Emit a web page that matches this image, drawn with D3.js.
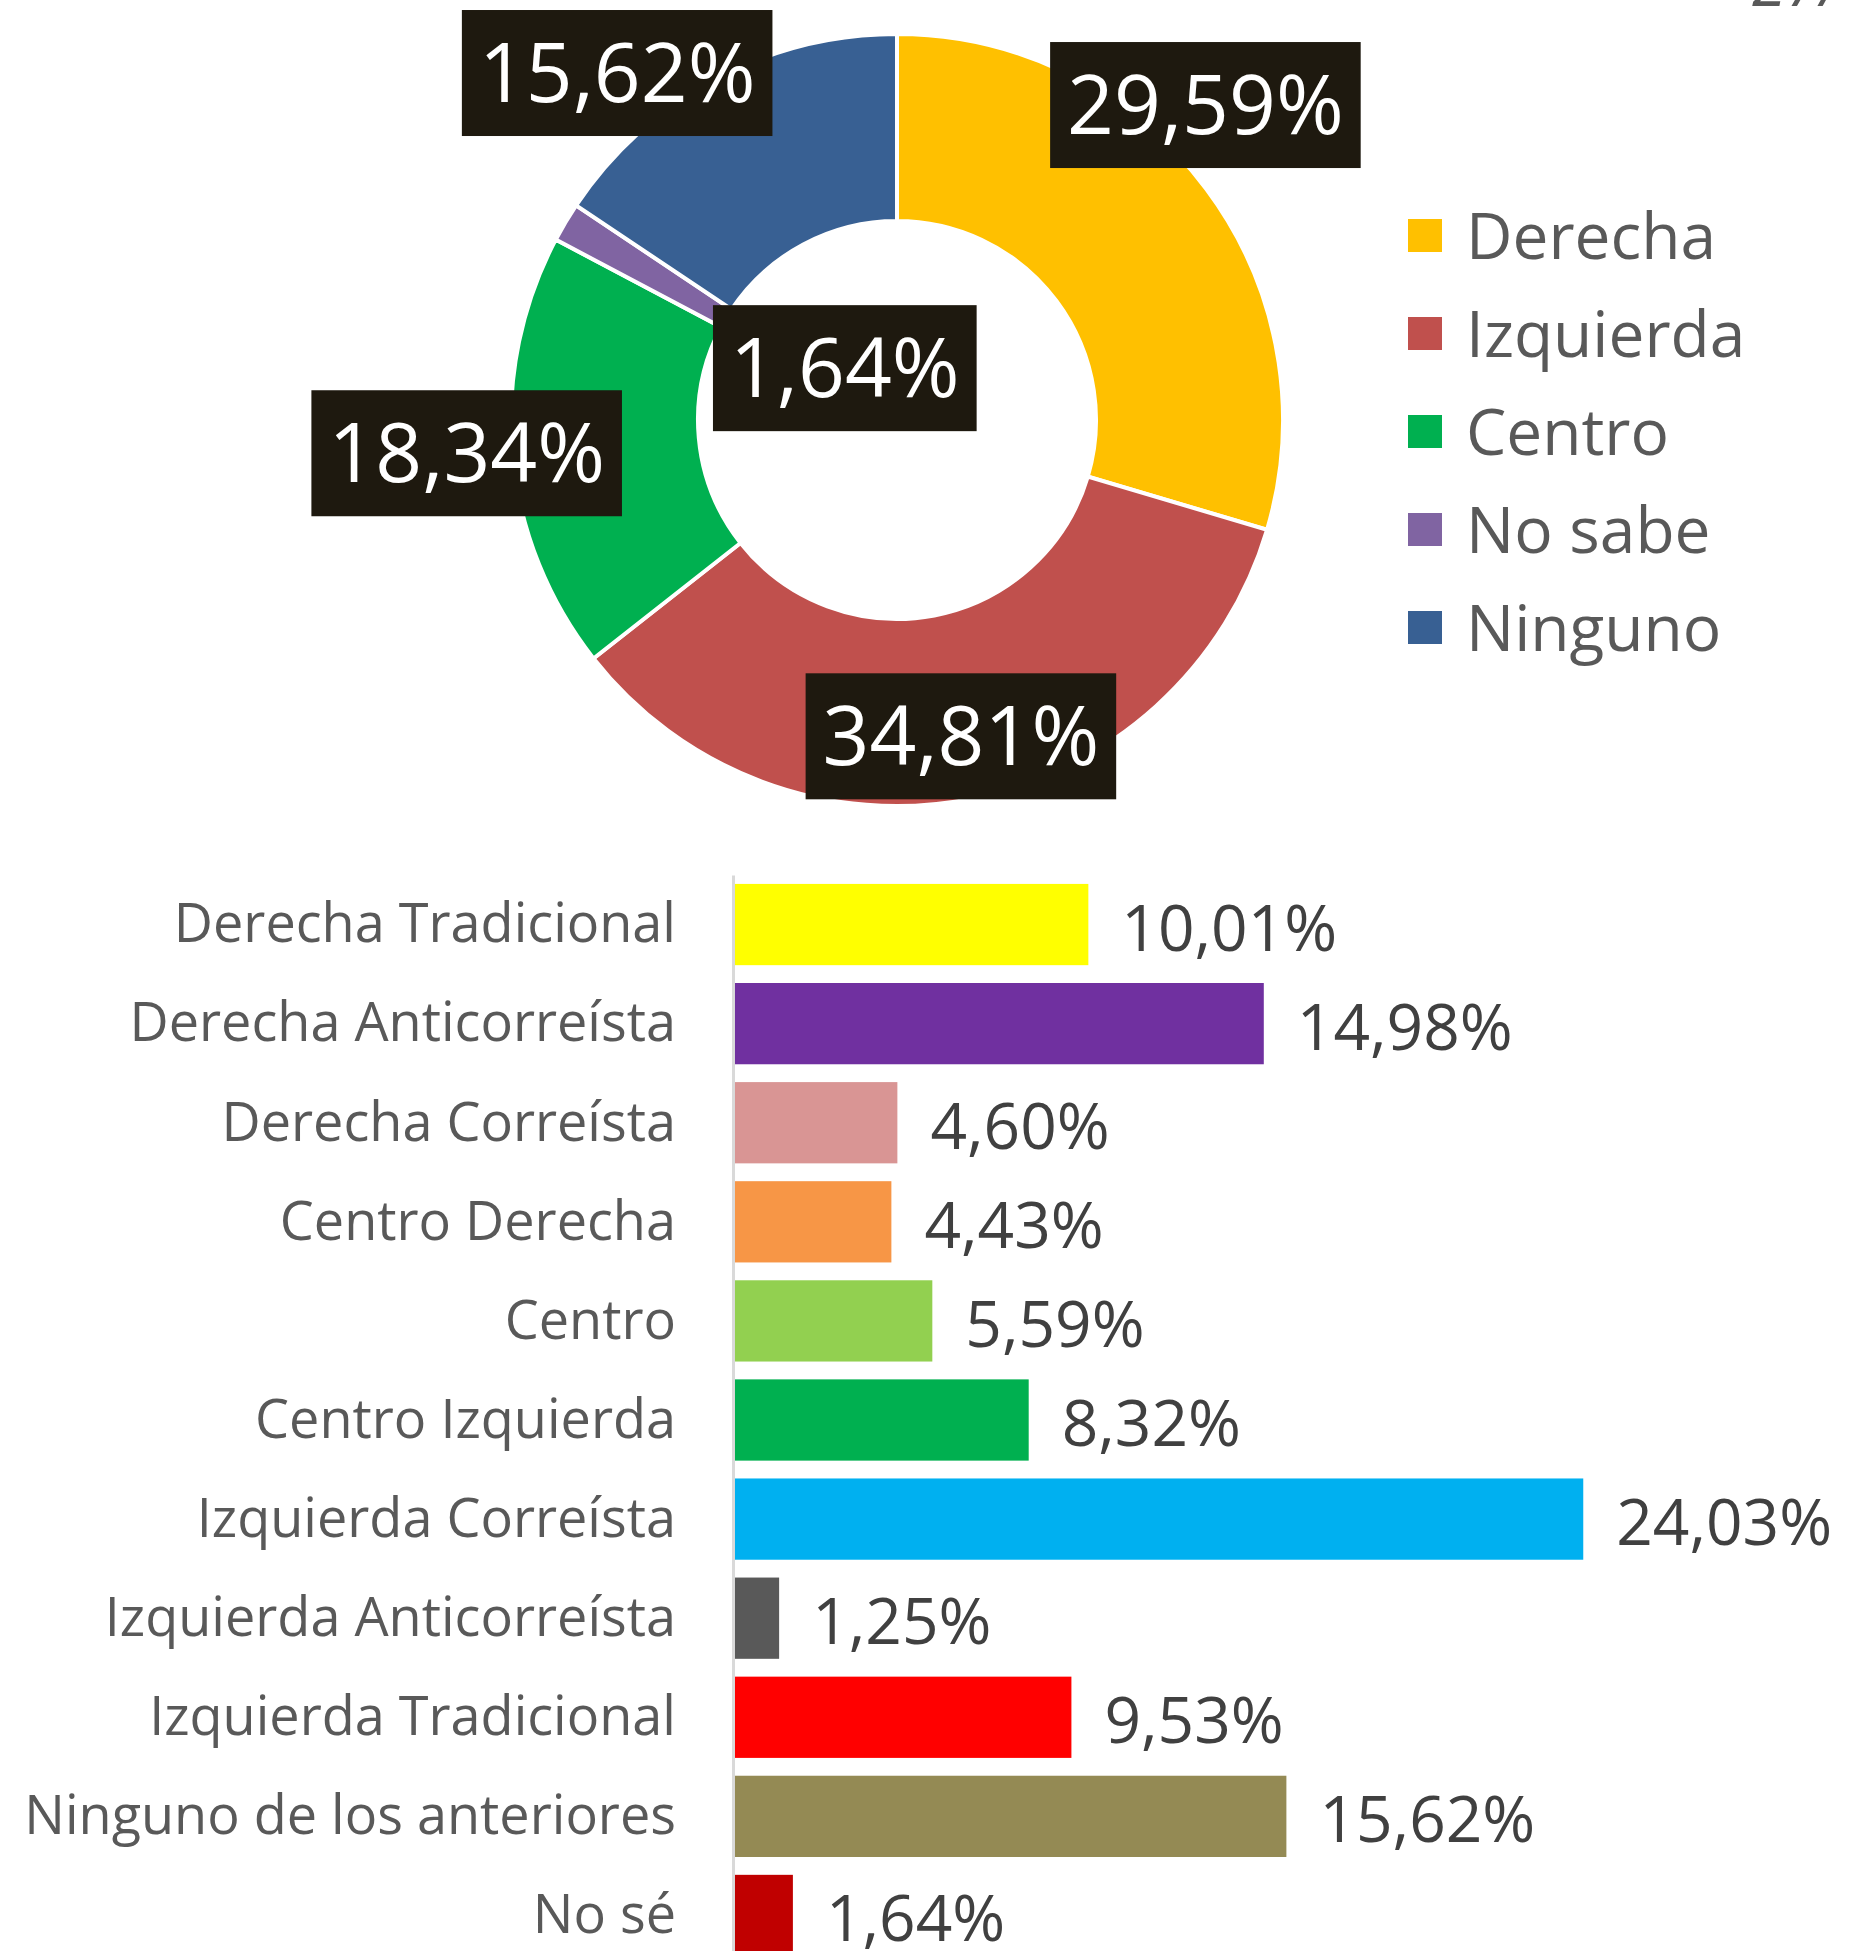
<!DOCTYPE html>
<html lang="es">
<head>
  <meta charset="utf-8">
  <title>Autoidentificación política</title>
  <script src="https://cdn.jsdelivr.net/npm/d3@7"></script>
  <style>
    body { margin: 0; background: #fff; }
    svg text { font-family: "Open Sans", "DejaVu Sans", sans-serif; }
  </style>
</head>
<body>
<div id="chart"></div>
<script>
// donut: autoidentificación
const donutCats = ["Derecha", "Izquierda", "Centro", "No sabe", "Ninguno"];
const donutVals = [29.59, 34.81, 18.34, 1.64, 15.62];
const donutColors = ["#FFC000", "#C0504D", "#00B050", "#8064A2", "#386093"];

// barras: detalle
const barCats = ["Derecha Tradicional", "Derecha Anticorreísta", "Derecha Correísta",
  "Centro Derecha", "Centro", "Centro Izquierda", "Izquierda Correísta",
  "Izquierda Anticorreísta", "Izquierda Tradicional", "Ninguno de los anteriores", "No sé"];
const barVals = [10.01, 14.98, 4.60, 4.43, 5.59, 8.32, 24.03, 1.25, 9.53, 15.62, 1.64];
const barColors = ["#FFFF00", "#7030A0", "#D99594", "#F79646", "#92D050", "#00B050",
  "#00B0F0", "#595959", "#FF0000", "#948A54", "#C00000"];

const fmt = v => v.toFixed(2).replace(".", ",") + "%";

const W = 1863, H = 1951;
const svg = d3.select("#chart").append("svg")
  .attr("width", W).attr("height", H);

// numero de pagina cortado arriba
svg.append("text")
  .attr("x", 1752).attr("y", 6)
  .attr("font-size", 62).attr("font-style", "italic")
  .attr("fill", "#595959")
  .text("27/");

// ---- donut ----
const cx = 897, cy = 420;
const rOut = 386, rIn = 199;
const pie = d3.pie().sort(null).value(d => d);
const arc = d3.arc().innerRadius(rIn).outerRadius(rOut);
const arcs = pie(donutVals);

const gD = svg.append("g").attr("transform", `translate(${cx},${cy})`);
gD.selectAll("path")
  .data(arcs)
  .enter().append("path")
  .attr("d", arc)
  .attr("fill", (d, i) => donutColors[i])
  .attr("stroke", "#fff")
  .attr("stroke-width", 4);

// etiquetas movidas a mano como en el original
const nudge = [[74, -140], [9, 29], [-139, 7], [199, 98], [-142, -89]];
const mid = d3.arc().innerRadius((rIn + rOut) / 2).outerRadius((rIn + rOut) / 2);
arcs.forEach((d, i) => {
  const c = mid.centroid(d);
  const g = gD.append("g")
    .attr("transform", `translate(${c[0] + nudge[i][0]},${c[1] + nudge[i][1]})`);
  const box = g.append("rect").attr("fill", "#1E190F");
  const t = g.append("text")
    .attr("text-anchor", "middle")
    .attr("y", 29)
    .attr("font-size", 82)
    .attr("fill", "#fff")
    .text(fmt(donutVals[i]));
  const bb = t.node().getBBox();
  box.attr("x", bb.x - 17).attr("width", bb.width + 34)
    .attr("y", -63).attr("height", 126);
});

// leyenda
const leg = svg.append("g").attr("transform", "translate(1408,236)");
donutCats.forEach((c, i) => {
  const row = leg.append("g").attr("transform", `translate(0,${i * 98})`);
  row.append("rect").attr("x", 0).attr("y", -17).attr("width", 34).attr("height", 33)
    .attr("fill", donutColors[i]);
  row.append("text").attr("x", 58).attr("y", 23)
    .attr("font-size", 64).attr("fill", "#595959").text(c);
});

// ---- barras ----
const x = d3.scaleLinear().domain([0, 25]).range([735, 735 + 25 * 35.3]);
const y = d3.scaleBand().domain(barCats).range([875, 1965])
  .paddingInner(0.18).paddingOuter(0.09);

svg.selectAll(".bar")
  .data(barVals)
  .enter().append("rect")
  .attr("class", "bar")
  .attr("x", x(0))
  .attr("y", (d, i) => y(barCats[i]))
  .attr("width", d => x(d) - x(0))
  .attr("height", y.bandwidth())
  .attr("fill", (d, i) => barColors[i]);

svg.selectAll(".val")
  .data(barVals)
  .enter().append("text")
  .attr("class", "val")
  .attr("x", d => x(d) + 33)
  .attr("y", (d, i) => y(barCats[i]) + y.bandwidth() / 2 + 26)
  .attr("font-size", 64)
  .attr("fill", "#404040")
  .text(fmt);

const yAxis = svg.append("g")
  .attr("transform", "translate(733,0)")
  .call(d3.axisLeft(y).tickSize(0).tickPadding(57));
yAxis.select(".domain").attr("stroke", "#D9D9D9").attr("stroke-width", 3);
yAxis.selectAll("text")
  .attr("font-size", 54)
  .attr("font-family", "Open Sans, sans-serif")
  .attr("fill", "#595959")
  .attr("dy", "0.33em");
</script>
</body>
</html>
